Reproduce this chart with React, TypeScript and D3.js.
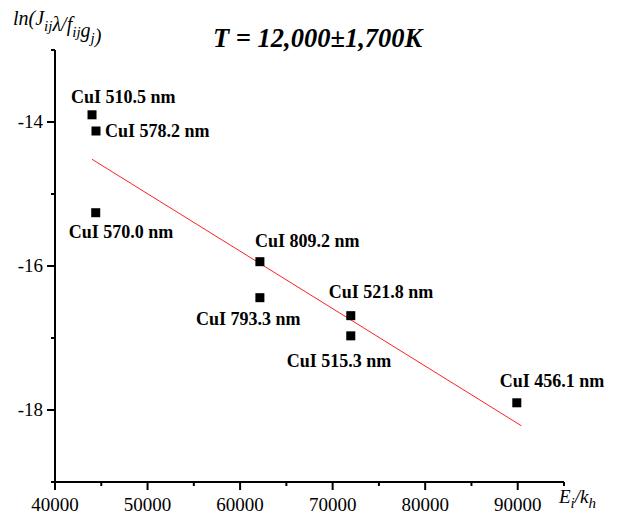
import React, { useEffect, useRef } from "react";
import * as d3 from "d3";

// excitation energy E_i/k_h and ln(J*lambda/(f*g))
const lineNames = ["CuI 510.5 nm", "CuI 578.2 nm", "CuI 570.0 nm", "CuI 809.2 nm", "CuI 793.3 nm", "CuI 521.8 nm", "CuI 515.3 nm", "CuI 456.1 nm"];
const energies = [44000, 44430, 44400, 62140, 62140, 71960, 71960, 89900];
const lnValues = [-13.9, -14.125, -15.26, -15.94, -16.44, -16.69, -16.97, -17.9];
const fitRange = [44000, 90400];

const xMajor = [40000, 50000, 60000, 70000, 80000, 90000];
const xMinor = [45000, 55000, 65000, 75000, 85000, 95000];
const yMajor = [-14, -16, -18];
const yMinor = [-13, -15, -17, -19];

// where each label sits relative to its point (px)
const labelOffsets = [
  [-21, -12], [9, 6], [-27, 25], [-5, -15],
  [-64, 27], [-22, -18], [-64, 31], [-17, -16],
];

export default function App() {
  const ref = useRef<SVGSVGElement>(null);

  useEffect(() => {
    const svg = d3.select(ref.current);
    svg.selectAll("*").remove();

    const x = d3.scaleLinear().domain([40000, 95000]).range([55, 564]);
    const y = d3.scaleLinear().domain([-19, -13]).range([482, 50]);
    const font = "'Liberation Serif', 'Times New Roman', serif";

    // least squares fit line
    const mx = d3.mean(energies)!;
    const my = d3.mean(lnValues)!;
    let num = 0, den = 0;
    energies.forEach((e, i) => {
      num += (e - mx) * (lnValues[i] - my);
      den += (e - mx) * (e - mx);
    });
    const slope = num / den;
    const fit = (e: number) => my + slope * (e - mx);

    svg.append("path")
      .datum(fitRange)
      .attr("d", d3.line<number>().x((d) => x(d)).y((d) => y(fit(d))))
      .attr("stroke", "#ff2020")
      .attr("stroke-width", 1)
      .attr("fill", "none");

    // axes
    const ax = svg.append("g").attr("stroke", "#000").attr("stroke-width", 2);
    ax.append("line").attr("x1", x(40000)).attr("x2", x(95000)).attr("y1", y(-19)).attr("y2", y(-19));
    ax.append("line").attr("x1", x(40000)).attr("x2", x(40000)).attr("y1", y(-19)).attr("y2", y(-13));
    ax.selectAll(".xmaj").data(xMajor).enter().append("line")
      .attr("x1", (d) => x(d)).attr("x2", (d) => x(d))
      .attr("y1", y(-19)).attr("y2", y(-19) + 8);
    ax.selectAll(".xmin").data(xMinor).enter().append("line")
      .attr("x1", (d) => x(d)).attr("x2", (d) => x(d))
      .attr("y1", y(-19)).attr("y2", y(-19) + 4);
    ax.selectAll(".ymaj").data(yMajor).enter().append("line")
      .attr("x1", x(40000)).attr("x2", x(40000) - 8)
      .attr("y1", (d) => y(d)).attr("y2", (d) => y(d));
    ax.selectAll(".ymin").data(yMinor).enter().append("line")
      .attr("x1", x(40000)).attr("x2", x(40000) - 4)
      .attr("y1", (d) => y(d)).attr("y2", (d) => y(d));

    svg.selectAll(".xlab").data(xMajor).enter().append("text")
      .attr("x", (d) => x(d)).attr("y", 511)
      .attr("text-anchor", "middle")
      .style("font-family", font).style("font-size", "19px")
      .text((d) => d);
    svg.selectAll(".ylab").data(yMajor).enter().append("text")
      .attr("x", 43).attr("y", (d) => y(d) + 6)
      .attr("text-anchor", "end")
      .style("font-family", font).style("font-size", "19px")
      .text((d) => d);

    // points and labels
    svg.selectAll(".pt").data(energies).enter().append("rect")
      .attr("x", (d) => x(d) - 4.5)
      .attr("y", (d, i) => y(lnValues[i]) - 4.5)
      .attr("width", 9).attr("height", 9)
      .attr("fill", "#000");
    svg.selectAll(".name").data(lineNames).enter().append("text")
      .attr("x", (d, i) => x(energies[i]) + labelOffsets[i][0])
      .attr("y", (d, i) => y(lnValues[i]) + labelOffsets[i][1])
      .style("font-family", font).style("font-size", "18px").style("font-weight", "bold")
      .text((d) => d);

    // title
    svg.append("text")
      .attr("x", 213).attr("y", 47)
      .style("font-family", font).style("font-size", "26.5px")
      .style("font-weight", "bold").style("font-style", "italic")
      .text("T = 12,000\u00b11,700K");

    // y axis title
    const yt = svg.append("text")
      .attr("x", 13).attr("y", 25)
      .style("font-family", font).style("font-size", "20px").style("font-style", "italic");
    const parts: [string, boolean][] = [["ln(J", false], ["ij", true], ["\u03bb/f", false], ["ij", true], ["g", false], ["j", true], [")", false]];
    parts.forEach(([t, sub]) => {
      yt.append("tspan")
        .attr("dy", sub ? 6 : 0)
        .style("font-size", sub ? "15px" : "20px")
        .text(t);
      if (sub) yt.append("tspan").attr("dy", -6).text("");
    });

    // x axis title
    const xt = svg.append("text")
      .attr("x", 559).attr("y", 503)
      .style("font-family", font).style("font-size", "19px").style("font-style", "italic");
    xt.append("tspan").text("E");
    xt.append("tspan").attr("dy", 5).style("font-size", "15px").text("i");
    xt.append("tspan").attr("dy", -5).text("/k");
    xt.append("tspan").attr("dy", 5).style("font-size", "15px").text("h");
  }, []);

  return (
    <svg
      ref={ref}
      width={617}
      height={517}
      style={{ position: "absolute", left: 0, top: 0, background: "#fff" }}
    />
  );
}
